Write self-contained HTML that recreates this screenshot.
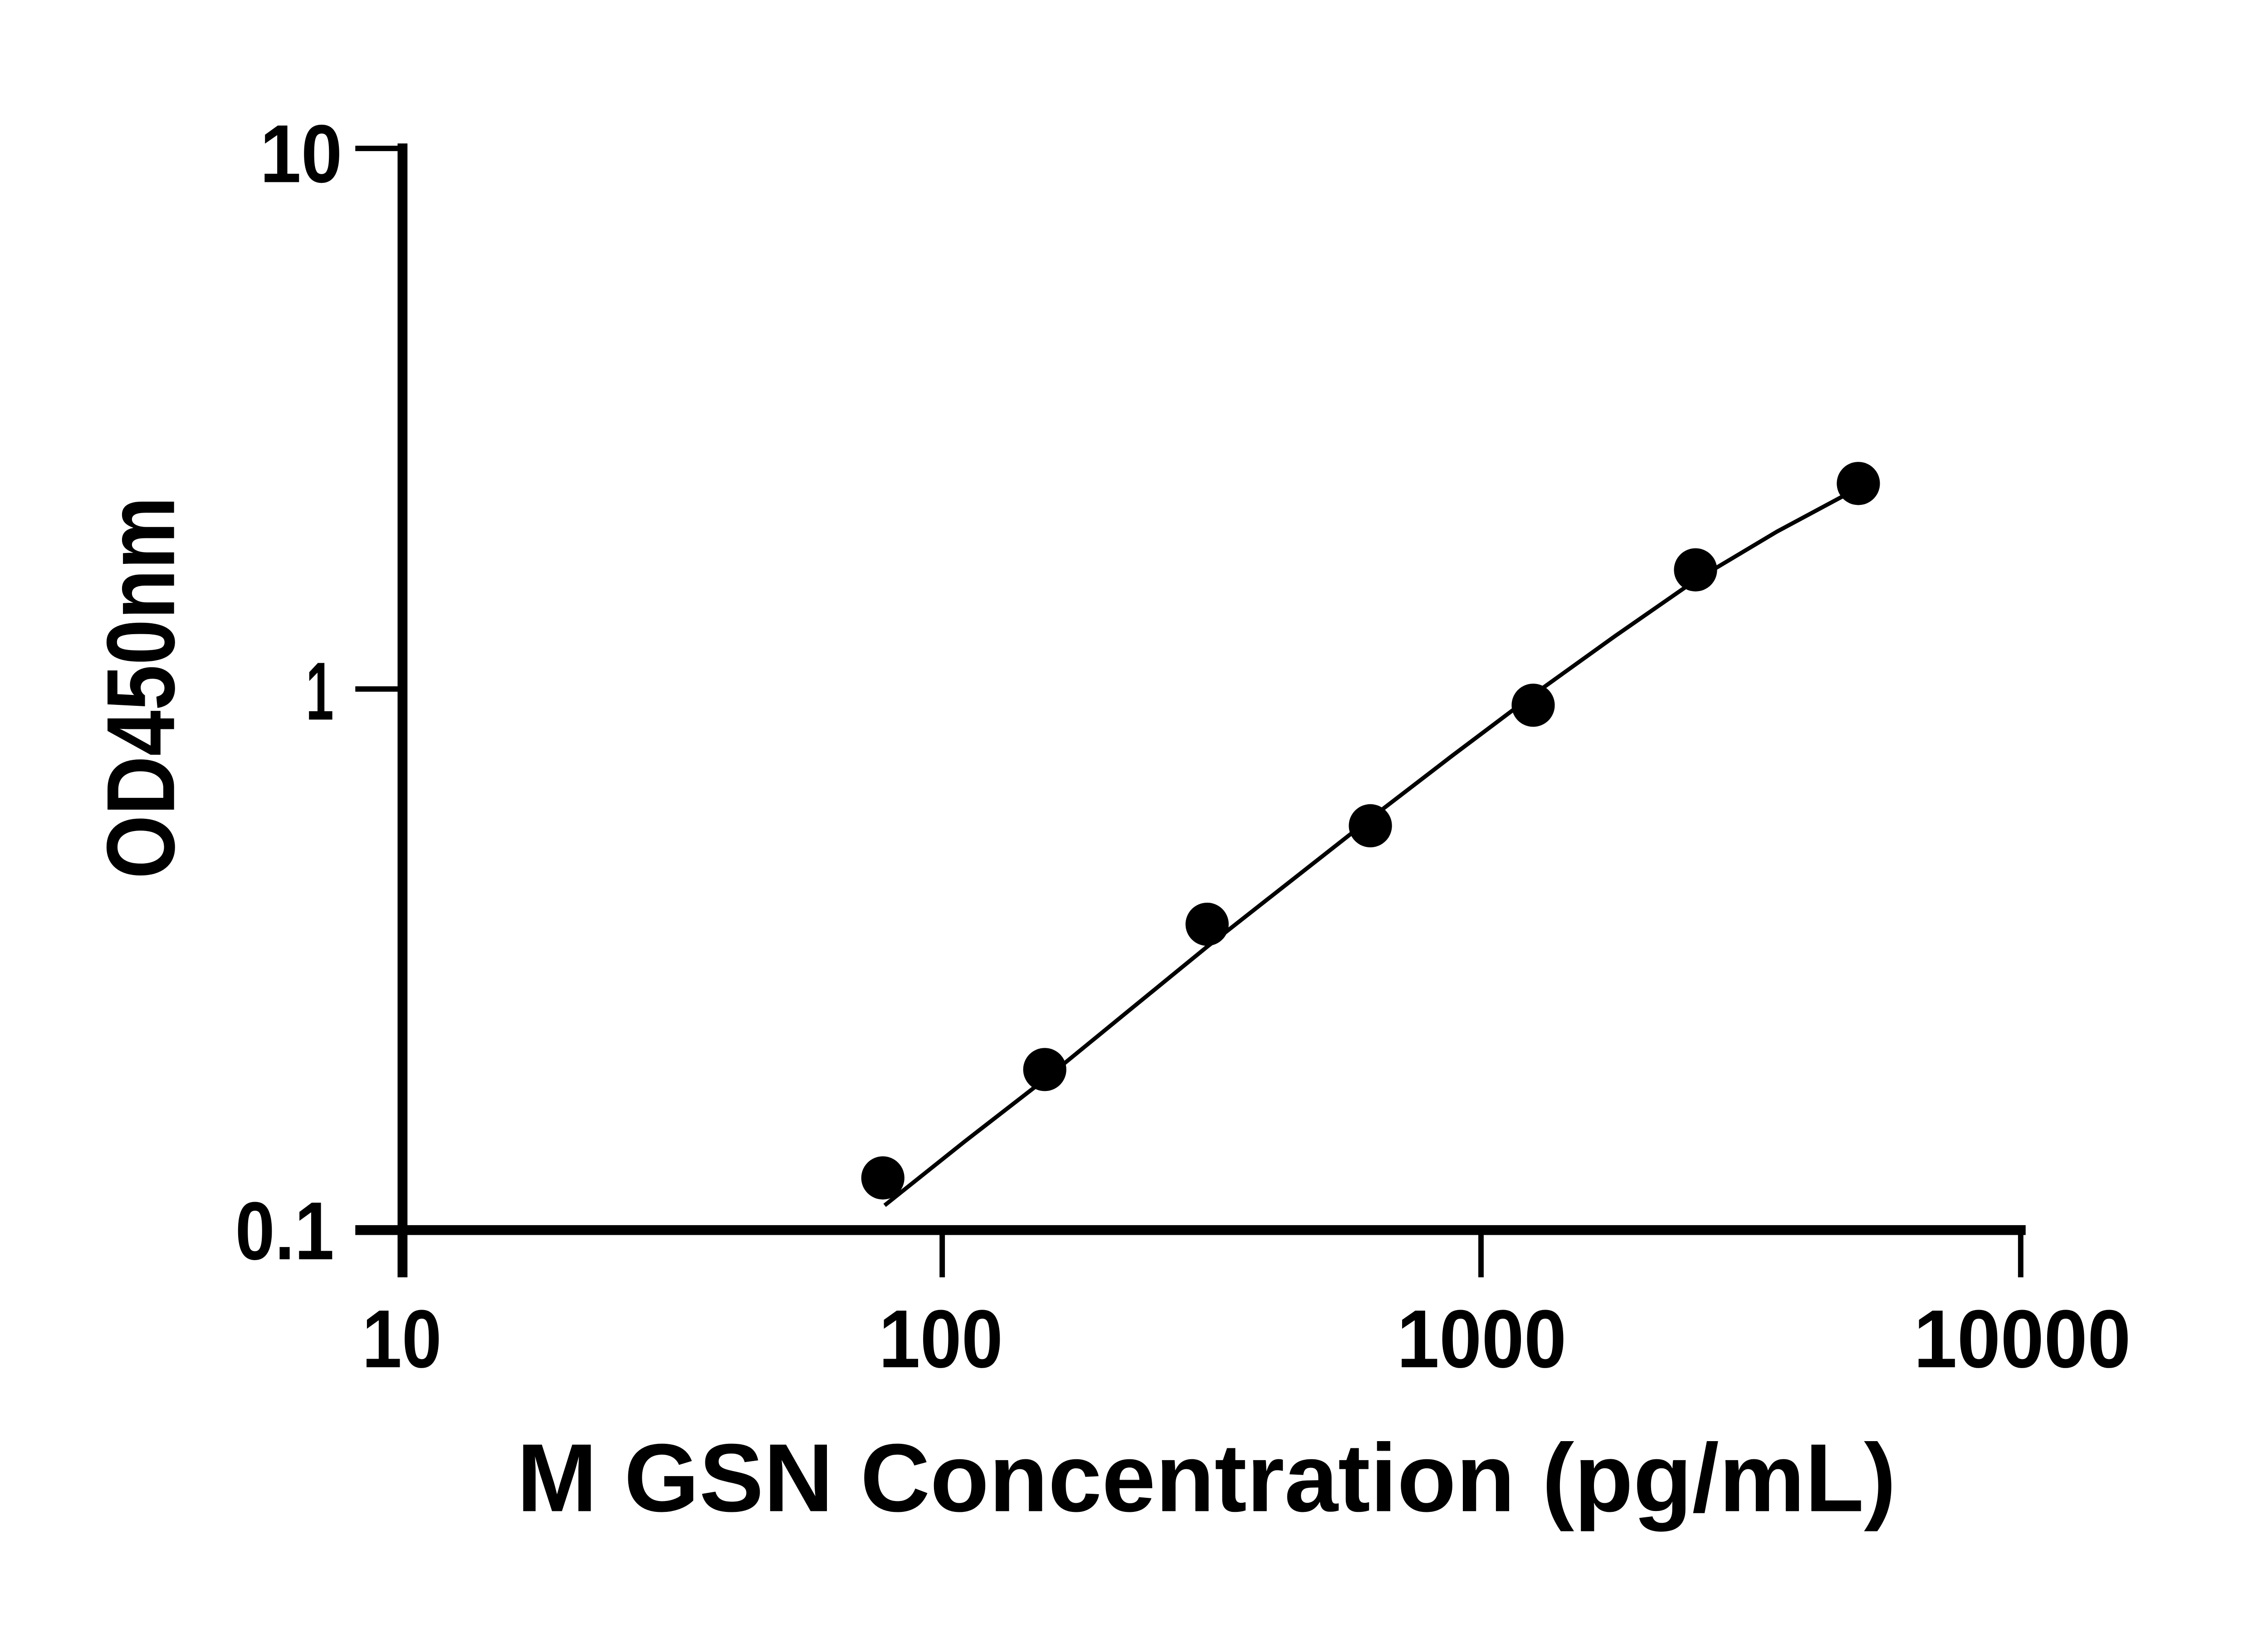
<!DOCTYPE html>
<html><head><meta charset="utf-8"><style>html,body{margin:0;padding:0;background:#fff}svg{display:block}</style></head>
<body>
<svg width="5046" height="3600" viewBox="0 0 5046 3600" xmlns="http://www.w3.org/2000/svg">
<rect width="5046" height="3600" fill="#fff"/>
<g transform="scale(0.9915)">
<g stroke="#000" stroke-linecap="butt" fill="none">
<line x1="895" y1="319" x2="895" y2="2840" stroke-width="22"/>
<line x1="790" y1="2735" x2="4504" y2="2735" stroke-width="22"/>
<line x1="790" y1="330" x2="895" y2="330" stroke-width="12"/>
<line x1="790" y1="1532" x2="895" y2="1532" stroke-width="12"/>
<line x1="2095" y1="2735" x2="2095" y2="2840" stroke-width="12"/>
<line x1="3293" y1="2735" x2="3293" y2="2840" stroke-width="12"/>
<line x1="4493" y1="2735" x2="4493" y2="2840" stroke-width="12"/>
<path d="M1967,2680 L2145,2538 L2323,2400 L2504,2252 L2684,2105 L2866,1962 L3047,1820 L3228,1681 L3409,1545 L3590,1415 L3770,1290 L3951,1182 L4132,1085" stroke-width="9" stroke-linejoin="round"/>
</g>
<g fill="#000">
<circle cx="1963" cy="2619" r="48"/>
<circle cx="2323" cy="2378" r="48"/>
<circle cx="2684" cy="2055" r="48"/>
<circle cx="3047" cy="1836" r="48"/>
<circle cx="3409" cy="1568" r="48"/>
<circle cx="3770" cy="1267" r="48"/>
<circle cx="4132" cy="1075" r="48"/>
</g>
<g font-family="Liberation Sans, sans-serif" font-weight="bold" fill="#000" font-size="183">
<text x="578" y="405" textLength="183" lengthAdjust="spacingAndGlyphs">10</text>
<text x="680" y="1600" textLength="62" lengthAdjust="spacingAndGlyphs">1</text>
<text x="523" y="2800" textLength="220" lengthAdjust="spacingAndGlyphs">0.1</text>
<text x="805" y="3040" textLength="177" lengthAdjust="spacingAndGlyphs">10</text>
<text x="1954" y="3040" textLength="276" lengthAdjust="spacingAndGlyphs">100</text>
<text x="3106" y="3040" textLength="377" lengthAdjust="spacingAndGlyphs">1000</text>
<text x="4255" y="3040" textLength="483" lengthAdjust="spacingAndGlyphs">10000</text>
<text x="1149" y="3360" font-size="215" textLength="3067" lengthAdjust="spacingAndGlyphs">M GSN Concentration (pg/mL)</text>
<text transform="translate(387,1954) rotate(-90)" font-size="215" textLength="850" lengthAdjust="spacingAndGlyphs">OD450nm</text>
</g>
</g>
</svg>
</body></html>
